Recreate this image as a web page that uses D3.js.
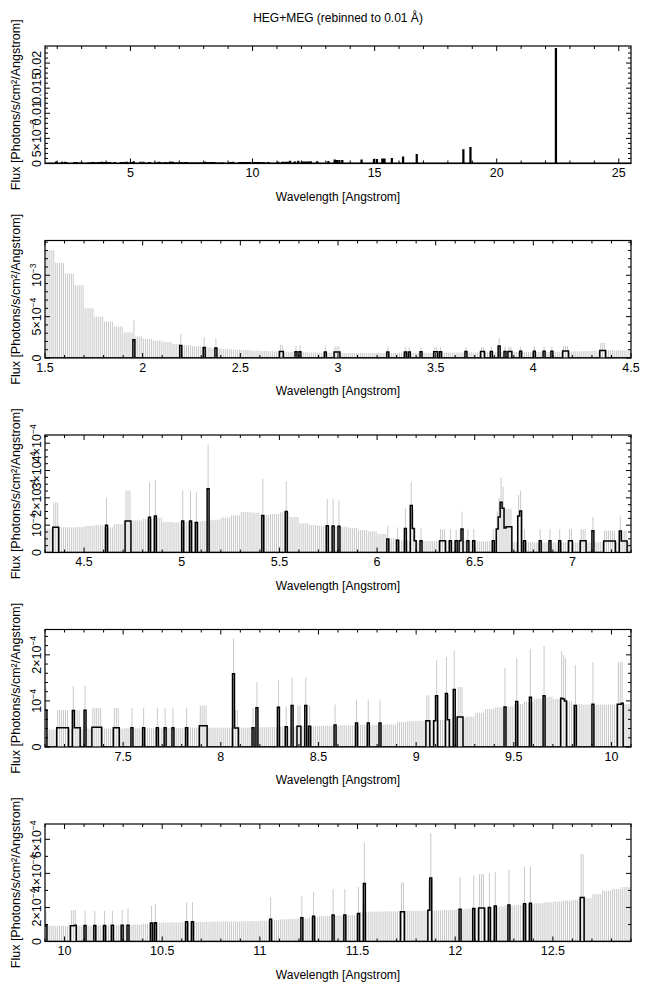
<!DOCTYPE html>
<html>
<head>
<meta charset="utf-8">
<script src="https://cdn.jsdelivr.net/npm/d3@7"></script>
<style>
  body { margin: 0; background: #fff; }
  svg { font-family: "Liberation Sans", Arial, Helvetica, sans-serif; }
</style>
</head>
<body>
<svg id="chart" width="650" height="991"></svg>
<script>
// upper limit of the zero-count bins, one value per 0.05 A from 1.5 A (units 1e-4)
const envStart = 1.5, envStep = 0.05;
const envelope = [
  13.0, 11.5, 10.2, 8.8, 6.0, 5.0, 4.4, 3.8, 3.1, 2.6,
  2.3, 2.1, 1.95, 1.7, 1.55, 1.42, 1.3, 1.18, 1.1, 1.02, 0.98, 0.9, 0.85, 0.81, 0.77, 0.73, 0.69, 0.66, 0.64, 0.62,
  0.6, 0.6, 0.61, 0.61, 0.62, 0.62, 0.63, 0.63, 0.64, 0.64, 0.65, 0.66, 0.67, 0.67, 0.68, 0.69, 0.7, 0.71, 0.72, 0.72,
  0.73, 0.74, 0.76, 0.78, 0.8, 0.84, 0.88, 0.92, 0.92, 0.93, 0.97, 1.0, 0.92, 1.04, 1.12, 1.18, 1.23, 1.28, 1.12, 1.1,
  1.12, 1.13, 1.15, 1.2, 1.28, 1.36, 1.48, 1.46, 1.37, 1.41, 1.47, 1.3, 1.07, 1.0, 0.97, 0.96, 0.94, 0.9, 0.82, 0.77,
  0.68, 0.52, 0.45, 0.43, 0.42, 0.42, 0.42, 0.42, 0.42, 0.42, 0.41, 0.41, 0.4, 0.4, 0.39, 0.38, 0.37, 0.37, 0.37, 0.37,
  0.37, 0.37, 0.38, 0.38, 0.39, 0.39, 0.4, 0.4, 0.4, 0.4, 0.41, 0.41, 0.41, 0.41, 0.41, 0.41, 0.42, 0.42, 0.42, 0.42,
  0.42, 0.42, 0.42, 0.43, 0.43, 0.43, 0.44, 0.44, 0.45, 0.45, 0.46, 0.46, 0.47, 0.47, 0.48, 0.48, 0.49, 0.49, 0.54, 0.56,
  0.57, 0.58, 0.59, 0.6, 0.62, 0.66, 0.74, 0.82, 0.86, 0.88, 0.93, 0.98, 1.05, 1.09, 1.04, 0.99, 0.93, 0.92, 0.92, 0.92,
  0.92, 0.93, 0.93, 0.94, 0.95, 0.96, 0.97, 1.0, 1.05, 1.1, 1.12, 1.12, 1.13, 1.14, 1.15, 1.17, 1.18, 1.18, 1.19, 1.2,
  1.22, 1.26, 1.3, 1.33, 1.37, 1.43, 1.49, 1.51, 1.52, 1.55, 1.72, 1.75, 1.76, 1.77, 1.78, 1.8, 1.8, 1.82, 1.83, 1.85,
  1.88, 1.92, 1.96, 2.0, 2.05, 2.1, 2.14, 2.2, 2.24, 2.3, 2.35, 2.4, 2.45, 2.55, 2.78, 2.98, 3.08, 3.2
];

// bins with counts: [bin start (A), flux, upper error] (units 1e-4)
const countBins = [
  [1.95, 2.2, 4.6], [2.19, 1.5, 2.9], [2.31, 1.26, 2.5], [2.37, 1.2, 2.4],
  [2.70, 0.8, 1.6], [2.71, 0.8, 1.6], [2.78, 0.77, 1.5], [2.80, 0.77, 1.5], [2.93, 0.72, 1.4],
  [2.98, 0.72, 1.4], [2.99, 0.72, 1.4], [3.00, 0.72, 1.4], [3.25, 0.74, 1.3],
  [3.34, 0.74, 1.3], [3.36, 0.74, 1.3], [3.42, 0.75, 1.3], [3.49, 0.76, 1.3], [3.50, 0.76, 1.3], [3.52, 0.76, 1.3],
  [3.65, 0.78, 1.3], [3.73, 0.79, 1.3], [3.74, 0.79, 1.3], [3.78, 0.8, 1.35], [3.82, 1.45, 2.4],
  [3.85, 0.8, 1.35], [3.87, 0.8, 1.35], [3.88, 0.8, 1.35], [3.93, 0.81, 1.35], [4.00, 0.82, 1.4],
  [4.05, 0.82, 1.4], [4.09, 0.83, 1.4], [4.15, 0.84, 1.45], [4.16, 0.84, 1.45], [4.17, 0.84, 1.45],
  [4.34, 0.92, 1.83], [4.35, 0.92, 1.83], [4.36, 0.92, 1.83],
  [4.61, 1.0, 2.0], [4.71, 1.15, 2.27], [4.72, 1.15, 2.27], [4.73, 1.15, 2.27],
  [4.83, 1.29, 2.56], [4.86, 1.34, 2.64], [5.00, 1.15, 2.27], [5.04, 1.15, 2.27], [5.07, 1.1, 2.2],
  [5.13, 2.33, 3.95], [5.41, 1.35, 2.69], [5.53, 1.5, 2.6], [5.74, 0.98, 1.95], [5.77, 0.97, 1.95],
  [5.80, 0.96, 1.9], [6.05, 0.49, 0.97], [6.10, 0.45, 0.92], [6.14, 0.88, 1.62], [6.17, 1.72, 2.58],
  [6.18, 0.88, 1.6], [6.19, 0.43, 0.9], [6.22, 0.43, 0.9], [6.32, 0.43, 0.85], [6.33, 0.43, 0.85],
  [6.34, 0.43, 0.85], [6.37, 0.43, 0.85], [6.40, 0.43, 0.85], [6.42, 0.43, 0.85], [6.43, 0.86, 1.5],
  [6.46, 0.43, 0.85], [6.49, 0.43, 0.85], [6.59, 0.43, 0.85], [6.61, 0.86, 1.5], [6.62, 1.3, 2.0],
  [6.63, 1.84, 2.75], [6.64, 1.62, 2.4], [6.65, 0.9, 1.6], [6.66, 0.94, 1.6], [6.67, 0.94, 1.6],
  [6.68, 0.94, 1.6], [6.72, 1.34, 2.1], [6.73, 1.52, 2.27], [6.75, 0.43, 0.85], [6.83, 0.43, 0.85],
  [6.88, 0.43, 0.85], [6.93, 0.43, 0.85], [6.98, 0.43, 0.85], [6.99, 0.43, 0.85], [7.04, 0.43, 0.85],
  [7.05, 0.43, 0.85], [7.06, 0.43, 0.85], [7.10, 0.8, 1.3],
  [7.16, 0.42, 0.8], [7.17, 0.42, 0.8], [7.18, 0.42, 0.8], [7.19, 0.42, 0.8], [7.20, 0.42, 0.8], [7.21, 0.42, 0.8],
  [7.24, 0.79, 1.32], [7.25, 0.42, 0.8], [7.26, 0.42, 0.8], [7.27, 0.42, 0.8], [7.30, 0.8, 1.33],
  [7.34, 0.43, 0.85], [7.35, 0.43, 0.85], [7.36, 0.43, 0.85], [7.37, 0.43, 0.85], [7.38, 0.43, 0.85],
  [7.45, 0.42, 0.85], [7.46, 0.42, 0.85], [7.47, 0.42, 0.85], [7.54, 0.42, 0.85], [7.60, 0.42, 0.85],
  [7.67, 0.42, 0.85], [7.71, 0.42, 0.85], [7.75, 0.42, 0.85], [7.82, 0.42, 0.85],
  [7.89, 0.46, 0.9], [7.90, 0.46, 0.9], [7.91, 0.46, 0.9], [7.92, 0.46, 0.9],
  [8.06, 1.59, 2.35], [8.07, 0.41, 0.8], [8.08, 0.41, 0.8], [8.16, 0.42, 0.85], [8.18, 0.85, 1.41],
  [8.29, 0.86, 1.45], [8.33, 0.44, 0.88], [8.36, 0.9, 1.5], [8.39, 0.45, 0.9], [8.40, 0.45, 0.9],
  [8.43, 0.9, 1.5], [8.45, 0.45, 0.9], [8.58, 0.48, 0.92], [8.69, 0.52, 1.03], [8.75, 0.52, 1.03],
  [8.81, 0.52, 1.03], [9.05, 0.57, 1.12], [9.06, 0.57, 1.12], [9.09, 0.57, 1.12], [9.10, 1.11, 1.88],
  [9.15, 1.16, 1.95], [9.16, 0.59, 1.15], [9.19, 1.25, 2.09], [9.21, 0.65, 1.3], [9.22, 0.65, 1.3],
  [9.23, 0.65, 1.3], [9.45, 0.87, 1.72], [9.51, 0.99, 1.93], [9.58, 1.08, 2.13], [9.65, 1.11, 2.19],
  [9.74, 1.06, 2.08], [9.75, 1.04, 2.0], [9.76, 1.0, 1.93], [9.81, 0.9, 1.78], [9.90, 0.93, 1.84],
  [10.03, 0.93, 1.83], [10.04, 0.93, 1.85], [10.05, 0.95, 1.86],
  [10.10, 0.94, 1.8], [10.15, 0.94, 1.78], [10.20, 0.94, 1.8], [10.24, 0.95, 1.8], [10.29, 0.96, 1.86],
  [10.32, 0.96, 1.94], [10.44, 1.08, 2.1], [10.46, 1.1, 2.2], [10.62, 1.16, 2.3], [10.65, 1.16, 2.3],
  [11.05, 1.31, 2.59], [11.21, 1.39, 2.69], [11.27, 1.49, 2.92], [11.37, 1.55, 3.08], [11.43, 1.55, 3.08],
  [11.50, 1.65, 3.2], [11.53, 3.41, 5.78], [11.72, 1.75, 3.47], [11.73, 1.75, 3.47], [11.86, 1.84, 3.6],
  [11.87, 3.73, 6.35], [12.02, 1.9, 3.76], [12.09, 1.94, 3.86], [12.12, 1.96, 3.96], [12.13, 1.96, 3.96],
  [12.14, 1.96, 3.96], [12.17, 2.0, 4.0], [12.20, 2.08, 4.1], [12.27, 2.14, 4.2], [12.35, 2.22, 4.4],
  [12.38, 2.25, 4.4], [12.64, 2.59, 5.14], [12.65, 2.59, 5.14]
];

// long-wavelength lines, only seen in the overview panel: [bin start (A), flux]
const strongLines = [
  [13.10, 3e-4], [13.36, 6e-4], [13.45, 5e-4], [13.55, 5e-4], [13.67, 5e-4], [14.46, 6e-4],
  [14.97, 7e-4], [15.09, 7e-4], [15.31, 8e-4], [15.40, 8e-4], [15.70, 9e-4], [16.16, 1.2e-3],
  [16.72, 1.7e-3], [18.63, 2.65e-3], [18.92, 3.1e-3], [22.42, 0.0228]
];

const yTickLabels = [
  ['0', '5×10^−3', '0.01', '0.015', '0.02'],
  ['0', '5×10^−4', '10^−3'],
  ['0', '10^−4', '2×10^−4', '3×10^−4', '4×10^−4'],
  ['0', '10^−4', '2×10^−4'],
  ['0', '2×10^−4', '4×10^−4', '6×10^−4']
];

const panels = [
  { x: [1.5, 25.5], y: [0, 0.0234], xMajor: 5, xMinor: 1, yMajor: 0.005, yMinor: 0.001, errors: false, lw: 2 },
  { x: [1.5, 4.5], y: [0, 1.42e-3], xMajor: 0.5, xMinor: 0.1, yMajor: 5e-4, yMinor: 1e-4, errors: true, lw: 1.5 },
  { x: [4.3, 7.3], y: [0, 4.3e-4], xMajor: 0.5, xMinor: 0.1, yMajor: 1e-4, yMinor: 2.5e-5, errors: true, lw: 1.5 },
  { x: [7.1, 10.1], y: [0, 2.55e-4], xMajor: 0.5, xMinor: 0.1, yMajor: 1e-4, yMinor: 2e-5, errors: true, lw: 1.5 },
  { x: [9.9, 12.9], y: [0, 6.9e-4], xMajor: 0.5, xMinor: 0.1, yMajor: 2e-4, yMinor: 1e-4, errors: true, lw: 1.5 }
];

const left = 45, right = 631;
const panelTop = [46, 240.5, 435, 629.5, 824];
const panelH = 117.5;

const svg = d3.select('#chart');

// lookup of counted bins by index (0.01 A)
const binMap = new Map();
countBins.forEach(function(d) {
  binMap.set(Math.round(d[0] * 100), { flux: d[1] * 1e-4, upper: d[2] * 1e-4 });
});
strongLines.forEach(function(d) {
  binMap.set(Math.round(d[0] * 100), { flux: d[1], upper: d[1] });
});
const envAt = function(k) {
  let i = Math.floor((k / 100 - envStart) / envStep + 1e-6);
  return envelope[i] !== undefined ? envelope[i] * 1e-4 : 0;
};
const tickVals = function(dom, step) {
  let a = Math.ceil(dom[0] / step - 1e-6), b = Math.floor(dom[1] / step + 1e-6);
  return d3.range(a, b + 1).map(i => +(i * step).toPrecision(10));
};

// title
svg.append('text')
  .attr('x', (left + right) / 2).attr('y', 22)
  .attr('text-anchor', 'middle').attr('font-size', 12)
  .text('HEG+MEG (rebinned to 0.01 Å)');

panels.forEach(function(p, pi) {
  let top = panelTop[pi], bottom = top + panelH;
  let x = d3.scaleLinear().domain(p.x).range([left, right]);
  let y = d3.scaleLinear().domain(p.y).range([bottom, top]);
  let g = svg.append('g').attr('class', 'panel');

  svg.append('clipPath').attr('id', 'clip' + pi)
    .append('rect').attr('x', left).attr('y', top).attr('width', right - left).attr('height', panelH);

  let k0 = Math.round(p.x[0] * 100), k1 = Math.round(p.x[1] * 100);
  let bins = d3.range(k0, k1).map(function(k) {
    let b = binMap.get(k);
    return { k: k, flux: b ? b.flux : 0, upper: b ? b.upper : envAt(k) };
  });

  let plot = g.append('g').attr('clip-path', 'url(#clip' + pi + ')');

  // error bars
  if (p.errors) {
    plot.append('g').selectAll('line')
      .data(bins)
      .join('line')
      .attr('x1', d => x((d.k + 0.5) / 100))
      .attr('x2', d => x((d.k + 0.5) / 100))
      .attr('y1', y(0))
      .attr('y2', d => y(d.upper))
      .attr('stroke', '#c9c9c9')
      .attr('stroke-width', 1);
  }

  // histogram
  let pts = bins.map(d => [d.k / 100, d.flux]);
  pts.push([k1 / 100, bins[bins.length - 1].flux]);
  let line = d3.line().x(d => x(d[0])).y(d => y(d[1])).curve(d3.curveStepAfter);
  plot.append('path')
    .attr('d', line(pts))
    .attr('fill', 'none')
    .attr('stroke', '#000')
    .attr('stroke-width', p.lw);

  // ticks on all four sides, pointing inward
  let tg = g.append('g').attr('stroke', '#000').attr('stroke-width', 1);
  let xMaj = tickVals(p.x, p.xMajor), xMin = tickVals(p.x, p.xMinor);
  let yMaj = tickVals(p.y, p.yMajor), yMin = tickVals(p.y, p.yMinor);
  xMin.forEach(function(v) {
    let len = xMaj.some(m => Math.abs(m - v) < 1e-9) ? 5 : 3;
    tg.append('line').attr('x1', x(v)).attr('x2', x(v)).attr('y1', bottom).attr('y2', bottom - len);
    tg.append('line').attr('x1', x(v)).attr('x2', x(v)).attr('y1', top).attr('y2', top + len);
  });
  yMin.forEach(function(v) {
    let len = yMaj.some(m => Math.abs(m - v) < 1e-12) ? 5 : 3;
    tg.append('line').attr('y1', y(v)).attr('y2', y(v)).attr('x1', left).attr('x2', left + len);
    tg.append('line').attr('y1', y(v)).attr('y2', y(v)).attr('x1', right).attr('x2', right - len);
  });

  // frame
  g.append('rect')
    .attr('x', left).attr('y', top).attr('width', right - left).attr('height', panelH)
    .attr('fill', 'none').attr('stroke', '#000').attr('stroke-width', 1.2);

  // x tick labels
  let fmt = d3.format('~g');
  g.append('g').selectAll('text')
    .data(xMaj)
    .join('text')
    .attr('x', d => x(d)).attr('y', bottom + 13.5)
    .attr('text-anchor', 'middle').attr('font-size', 12.5)
    .text(d => fmt(d));

  // y tick labels, rotated
  yMaj.forEach(function(v, i) {
    let lab = yTickLabels[pi][i];
    if (!lab) return;
    let parts = lab.split('^');
    let t = g.append('text')
      .attr('x', 41).attr('y', y(v))
      .attr('transform', 'rotate(-90,41,' + y(v) + ')')
      .attr('text-anchor', 'middle').attr('font-size', 12.5)
      .text(parts[0]);
    if (parts[1]) {
      t.append('tspan').attr('font-size', 8.5).attr('dy', -5).text(parts[1]);
    }
  });

  // axis titles
  g.append('text')
    .attr('x', (left + right) / 2).attr('y', bottom + 37)
    .attr('text-anchor', 'middle').attr('font-size', 12)
    .text('Wavelength [Angstrom]');
  let cy = (top + bottom) / 2;
  g.append('text')
    .attr('x', 20).attr('y', cy)
    .attr('transform', 'rotate(-90,20,' + cy + ')')
    .attr('text-anchor', 'middle').attr('font-size', 12.5)
    .text('Flux [Photons/s/cm²/Angstrom]');
});
</script>
</body>
</html>
